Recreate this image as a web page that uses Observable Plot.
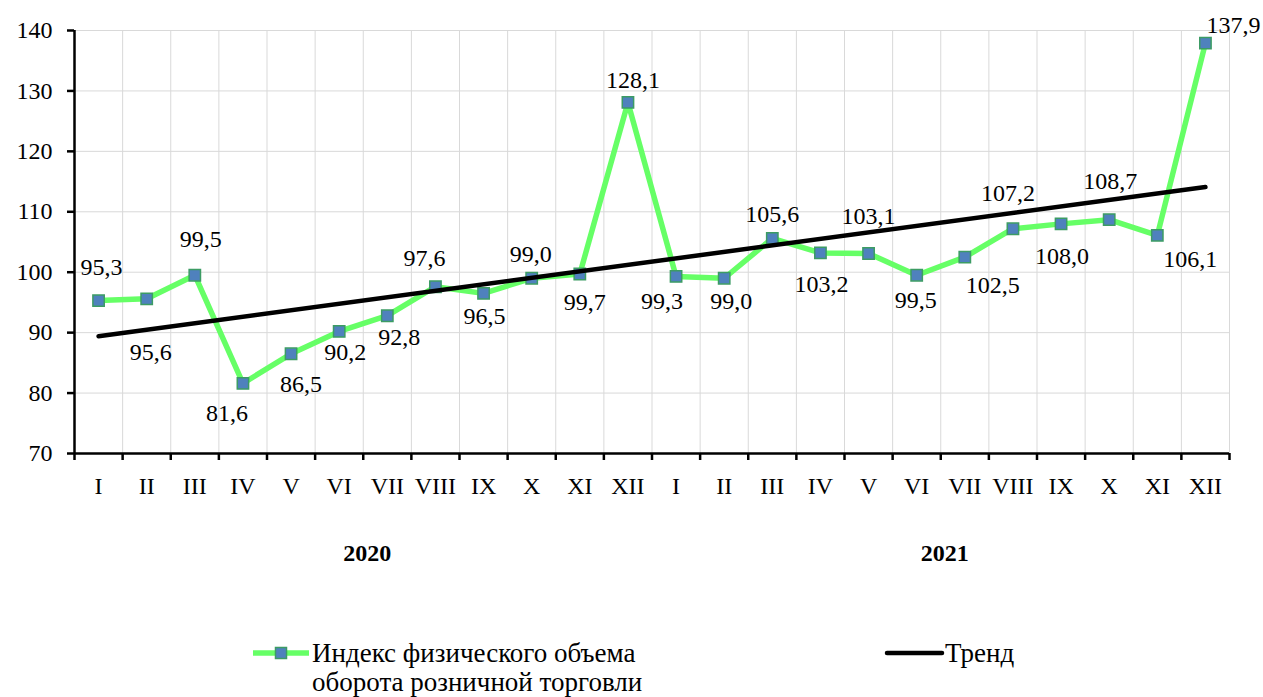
<!DOCTYPE html>
<html>
<head>
<meta charset="utf-8">
<script src="https://cdn.jsdelivr.net/npm/d3@7"></script>
<script src="https://cdn.jsdelivr.net/npm/@observablehq/plot@0.6"></script>
<style>
  html, body { margin: 0; padding: 0; background: white; }
  #wrap { position: relative; width: 1263px; height: 697px; overflow: hidden; }
  #legend { position: absolute; left: 0; top: 600px; }
</style>
</head>
<body>
<div id="wrap">
  <div id="chart"></div>
  <div id="legend"></div>
</div>
<script>
// ---- data ----
const months = ["I","II","III","IV","V","VI","VII","VIII","IX","X","XI","XII",
                "I","II","III","IV","V","VI","VII","VIII","IX","X","XI","XII"];
const years = ["2020", "2021"];
const values = [95.3, 95.6, 99.5, 81.6, 86.5, 90.2, 92.8, 97.6, 96.5, 99.0, 99.7, 128.1,
                99.3, 99.0, 105.6, 103.2, 103.1, 99.5, 102.5, 107.2, 108.0, 108.7, 106.1, 137.9];
const trendValues = [89.4, 114.1]; // trend at first and last month
const yTicks = [70, 80, 90, 100, 110, 120, 130, 140];
const seriesName = ["Индекс физического объема", "оборота розничной торговли"];
const trendName = "Тренд";

// label placement offsets (px) relative to each point
const labelOffsets = [
  [3,-33],[4,54],[6,-36],[-16,30],[10,31],[6,21],[12,22],[-11,-28],[1,23],[-1,-24],[5,28],[5,-22],
  [-14,25],[7,23],[0,-24],[1,31],[0,-37],[-1,25],[28,28],[-5,-35],[1,32],[1,-38],[33,24],[28,-18]
];

// ---- derived tables ----
const data = values.map((v, k) => ({i: k + 1, v}));
const trendData = [{i: 1, v: trendValues[0]}, {i: values.length, v: trendValues[1]}];
const boundaries = d3.range(0, values.length + 1).map(k => k + 0.5);
const fmt = v => v.toFixed(1).replace(".", ",");
const FONT = "'Liberation Serif', 'Times New Roman', serif";

const labelMarks = data.map((d, k) => Plot.text([d], {
  x: "i", y: "v", text: q => fmt(q.v),
  dx: labelOffsets[k][0], dy: labelOffsets[k][1],
  fontSize: 24, fill: "black"
}));

const chart = Plot.plot({
  width: 1263,
  height: 600,
  marginLeft: 74,
  marginRight: 34,
  marginTop: 30,
  marginBottom: 147,
  style: {fontFamily: FONT, fontSize: "24px", color: "black", background: "white", overflow: "visible"},
  x: {type: "linear", domain: [0.5, values.length + 0.5]},
  y: {domain: [70, 140]},
  marks: [
    Plot.ruleY(yTicks, {stroke: "#d9d9d9", strokeWidth: 1}),
    Plot.ruleX(boundaries, {y1: 70, y2: 140, stroke: "#d9d9d9", strokeWidth: 1}),
    Plot.axisY({ticks: yTicks, tickSize: 7, tickPadding: 15, strokeWidth: 2.5, label: null, tickFormat: d => String(d)}),
    Plot.axisX({ticks: boundaries, tickSize: 7, tickPadding: 0, strokeWidth: 2.5, label: null, tickFormat: () => ""}),
    Plot.axisX({ticks: data.map(d => d.i), tickSize: 0, tickPadding: 23, label: null, tickFormat: i => months[i - 1]}),
    Plot.ruleY([70], {stroke: "black", strokeWidth: 2.5}),
    Plot.ruleX([0.5], {stroke: "black", strokeWidth: 2.5}),
    Plot.text(years, {x: (d, k) => 12 * k + 6.5, frameAnchor: "bottom", dy: 107, dx: 4,
                      fontWeight: "bold", fontSize: 24, fill: "black"}),
    Plot.line(data, {x: "i", y: "v", stroke: "#66ff66", strokeWidth: 5.5, strokeLinejoin: "miter"}),
    Plot.dot(data, {x: "i", y: "v", symbol: "square", r: 6.4, fill: "#4f81bd", stroke: "#3c9c64", strokeWidth: 1.5}),
    Plot.line(trendData, {x: "i", y: "v", stroke: "black", strokeWidth: 4.5, strokeLinecap: "round"}),
    ...labelMarks
  ]
});
document.getElementById("chart").appendChild(chart);

// ---- legend ----
const lg = d3.select("#legend").append("svg")
  .attr("width", 1263).attr("height", 97)
  .style("font-family", FONT).style("font-size", "27px");
lg.append("line").attr("x1", 253).attr("x2", 309).attr("y1", 53).attr("y2", 53)
  .attr("stroke", "#66ff66").attr("stroke-width", 5.5);
lg.append("rect").attr("x", 281 - 5.5).attr("y", 53 - 5.5).attr("width", 11).attr("height", 11)
  .attr("fill", "#4f81bd").attr("stroke", "#3c9c64").attr("stroke-width", 1.5);
seriesName.forEach((t, k) => {
  lg.append("text").attr("x", 312).attr("y", 62 + 29 * k).attr("fill", "black").text(t);
});
lg.append("line").attr("x1", 887).attr("x2", 942).attr("y1", 53).attr("y2", 53)
  .attr("stroke", "black").attr("stroke-width", 4.5).attr("stroke-linecap", "round");
lg.append("text").attr("x", 945).attr("y", 62).attr("fill", "black").text(trendName);
</script>
</body>
</html>
